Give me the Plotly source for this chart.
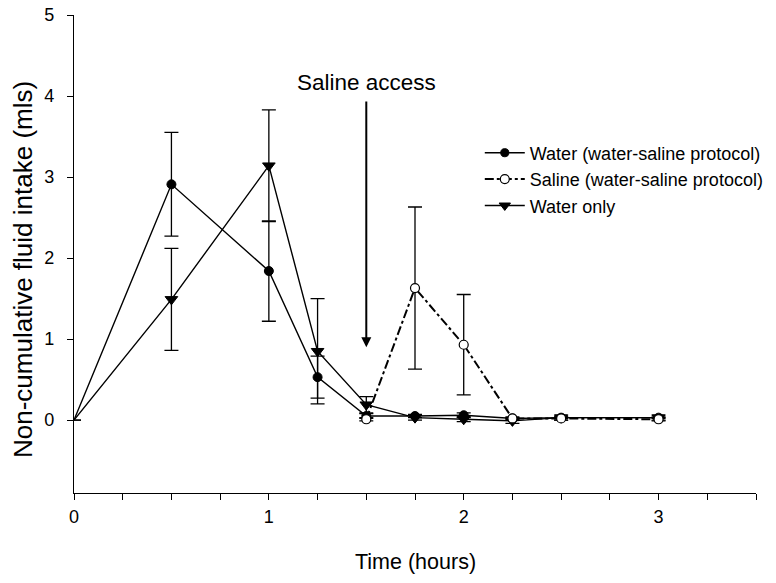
import plotly.graph_objects as go

# water intake during the water-saline protocol (filled circles)
water_x = [0, 0.5, 1.0, 1.25, 1.5, 1.75, 2.0, 2.25, 2.5, 3.0]
water_y = [0, 2.91, 1.84, 0.53, 0.05, 0.05, 0.06, 0.02, 0.03, 0.03]
water_err = [0, 0.64, 0.62, 0.26, 0.03, 0.02, 0.03, 0.01, 0.01, 0.01]

# saline intake during the water-saline protocol (open circles)
saline_x = [1.5, 1.75, 2.0, 2.25, 2.5, 3.0]
saline_y = [0.01, 1.63, 0.93, 0.02, 0.02, 0.01]
saline_err = [0.02, 1.0, 0.62, 0.02, 0.02, 0.02]

# water-only protocol (filled triangles)
only_x = [0, 0.5, 1.0, 1.25, 1.5, 1.75, 2.0, 2.25, 2.5, 3.0]
only_y = [0, 1.49, 3.14, 0.85, 0.19, 0.03, 0.01, -0.01, 0.03, 0.03]
only_err = [0, 0.63, 0.69, 0.65, 0.1, 0.03, 0.03, 0.03, 0.03, 0.03]

x_ticks = [0, 0.25, 0.5, 0.75, 1, 1.25, 1.5, 1.75, 2, 2.25, 2.5, 2.75, 3, 3.25, 3.5]
y_ticks = [0, 1, 2, 3, 4, 5]

FONT = "Liberation Sans, Arial, sans-serif"


def err(arr):
    return dict(type="data", array=arr, visible=True, color="black",
                thickness=1.3, width=7)


fig = go.Figure()

fig.add_trace(go.Scatter(
    name="Water (water-saline protocol)",
    x=water_x, y=water_y, error_y=err(water_err),
    mode="lines+markers",
    line=dict(color="black", width=1.4),
    marker=dict(symbol="circle", color="black", opacity=1,
                size=[0] + [9] * (len(water_x) - 1),
                line=dict(color="black", width=1)),
    legendrank=1,
))

fig.add_trace(go.Scatter(
    name="Water only",
    x=only_x, y=only_y, error_y=err(only_err),
    mode="lines+markers",
    line=dict(color="black", width=1.4),
    marker=dict(symbol="triangle-down", color="black", opacity=1,
                size=[0] + [11] * (len(only_x) - 1),
                line=dict(color="black", width=1)),
    legendrank=3,
))

fig.add_trace(go.Scatter(
    name="Saline (water-saline protocol)",
    x=saline_x, y=saline_y, error_y=err(saline_err),
    mode="lines+markers",
    line=dict(color="black", width=2, dash="dashdot"),
    marker=dict(symbol="circle", color="white", size=9,
                line=dict(color="black", width=1.2)),
    legendrank=2,
))

# saline access arrow
fig.add_annotation(x=1.5, y=0.9, ax=1.5, ay=3.95, axref="x", ayref="y",
                   xref="x", yref="y", text="", showarrow=True,
                   arrowhead=2, arrowsize=1, arrowwidth=2, arrowcolor="black")
fig.add_annotation(x=1.5, y=4.17, xref="x", yref="y", text="Saline access",
                   showarrow=False, font=dict(size=22.5, color="black", family=FONT))

# axis titles
fig.add_annotation(x=0, y=0.5, xref="paper", yref="paper", xshift=-51, yshift=-16,
                   text="Non-cumulative fluid intake (mls)", textangle=-90,
                   showarrow=False, xanchor="center", yanchor="middle",
                   font=dict(size=26, color="black", family=FONT))
fig.add_annotation(x=0.5, y=0, xref="paper", yref="paper", yshift=-69,
                   text="Time (hours)", showarrow=False,
                   xanchor="center", yanchor="middle",
                   font=dict(size=21.5, color="black", family=FONT))

# page body adds an 8px offset, so the figure is 8px smaller than the window
fig.update_layout(
    width=768, height=575,
    margin=dict(l=66, r=20, t=7, b=90),
    paper_bgcolor="white", plot_bgcolor="white",
    font=dict(family=FONT, color="black"),
    legend=dict(x=0.595, y=0.75, xanchor="left", yanchor="top",
                font=dict(size=18), tracegroupgap=0, itemwidth=40,
                bgcolor="rgba(0,0,0,0)"),
    showlegend=True,
)

fig.update_xaxes(
    range=[0, 3.5], tickvals=x_ticks,
    ticktext=[str(int(v)) if v == int(v) else "" for v in x_ticks],
    ticks="outside", ticklen=6, tickwidth=1.3, tickcolor="black",
    showline=True, linecolor="black", linewidth=1.3,
    showgrid=False, zeroline=False, automargin=False,
    tickfont=dict(size=18), ticklabelstandoff=1, ticklabeloverflow="allow",
)

fig.update_yaxes(
    range=[-0.9, 5], tickvals=y_ticks,
    ticks="outside", ticklen=6, tickwidth=1.3, tickcolor="black",
    showline=True, linecolor="black", linewidth=1.3,
    showgrid=False, zeroline=False, automargin=False,
    tickfont=dict(size=18), ticklabelstandoff=9, ticklabeloverflow="allow",
)

fig.write_html("out.html")
